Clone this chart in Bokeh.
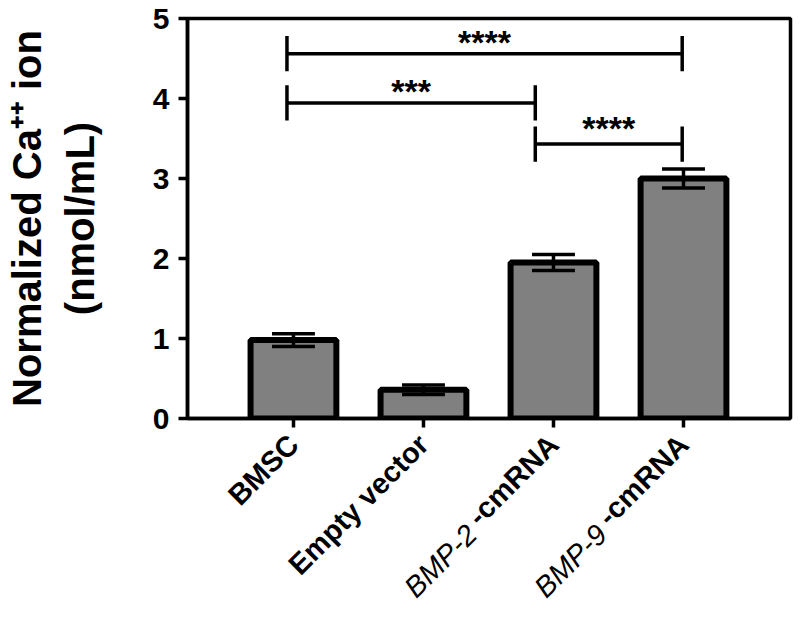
import math
from bokeh.plotting import figure
from bokeh.models import Range1d, FixedTicker, LinearAxis
from bokeh.core.properties import value
from bokeh.embed import file_html
from bokeh.resources import INLINE

# ---------------- data ----------------
categories = ["BMSC", "Empty vector", "BMP-2-cmRNA", "BMP-9-cmRNA"]
# label parts: (italic gene part, bold part)
label_gene = ["", "", "BMP-2", "BMP-9"]
label_bold = ["BMSC", "Empty vector", "-cmRNA", "-cmRNA"]
means = [0.98, 0.36, 1.95, 3.00]
errors = [0.08, 0.06, 0.10, 0.12]
y_ticks = [0, 1, 2, 3, 4, 5]
# significance comparisons (index from, index to, label)
sig_from = [0, 0, 2]
sig_to = [3, 2, 3]
sig_labels = ["****", "***", "****"]
sig_line_y = [4.56, 3.945, 3.43]

# ---------------- layout ----------------
FONT = "Liberation Sans"
W, H = 795, 620
ML, MR, MT = 187, 5, 18
FRAME_H = 400
MB = H - MT - FRAME_H
X0, X1 = -0.815, 3.823
Y0, Y1 = 0, 5
PX = (W - ML - MR) / (X1 - X0)
LAB_SIZE = 29

p = figure(width=W, height=H, x_range=Range1d(X0, X1), y_range=Range1d(Y0, Y1),
           output_backend="svg", toolbar_location=None,
           min_border_left=ML, min_border_right=MR,
           min_border_top=MT, min_border_bottom=MB)

p.xgrid.visible = False
p.ygrid.visible = False
p.outline_line_color = "black"
p.outline_line_width = 3.5
p.background_fill_color = "white"
p.border_fill_color = "white"

idx = list(range(len(categories)))

# bars
p.vbar(x=idx, top=means, bottom=0, width=0.66, fill_color="#808080",
       line_color="black", line_width=6)

# error bars
lo = [m - e for m, e in zip(means, errors)]
hi = [m + e for m, e in zip(means, errors)]
cw = 0.165
p.segment(x0=idx, y0=lo, x1=idx, y1=hi, line_color="black", line_width=3.5)
p.segment(x0=[i - cw for i in idx], y0=hi, x1=[i + cw for i in idx], y1=hi,
          line_color="black", line_width=3.5)
p.segment(x0=[i - cw for i in idx], y0=lo, x1=[i + cw for i in idx], y1=lo,
          line_color="black", line_width=3.5)

# significance brackets
end_shift = {0: -0.05, 2: -0.14, 3: -0.01}
text_lift = [0.15, 0.145, 0.2]
tick_h = 0.22
for a, b, lab, ly, tl in zip(sig_from, sig_to, sig_labels, sig_line_y, text_lift):
    xa = a + end_shift[a]
    xb = b + end_shift[b]
    p.segment(x0=[xa, xa, xb], y0=[ly, ly - tick_h, ly - tick_h],
              x1=[xb, xa, xb], y1=[ly, ly + tick_h, ly + tick_h],
              line_color="black", line_width=3.5)
    p.text(x=[(xa + xb) / 2], y=[ly + tl], text=[lab], text_font=value(FONT),
           text_font_size="34px", text_font_style="bold", text_align="center",
           text_baseline="alphabetic", text_color="black")

# y axis
p.yaxis.ticker = FixedTicker(ticks=y_ticks)
p.yaxis.major_label_text_font = FONT
p.yaxis.major_label_text_font_size = "30px"
p.yaxis.major_label_text_font_style = "bold"
p.yaxis.major_label_text_color = "black"
p.yaxis.major_label_standoff = 9
p.yaxis.axis_label = "Normalized Ca\u207a\u207a ion\n(nmol/mL)"
p.yaxis.axis_label_text_font = FONT
p.yaxis.axis_label_text_font_size = "40px"
p.yaxis.axis_label_text_font_style = "bold"
p.yaxis.axis_label_text_color = "black"
p.yaxis.axis_label_standoff = 48

# x axis (bold parts of the category labels)
xa1 = p.xaxis[0]
xa1.ticker = FixedTicker(ticks=idx)
xa1.major_label_overrides = {i: t for i, t in zip(idx, label_bold)}
xa1.major_label_orientation = math.pi / 4
xa1.major_label_text_font = FONT
xa1.major_label_text_font_size = f"{LAB_SIZE}px"
xa1.major_label_text_font_style = "bold"
xa1.major_label_text_color = "black"
xa1.major_label_standoff = 12
for ax in (xa1, p.yaxis[0]):
    ax.axis_line_width = 3.5
    ax.axis_line_color = "black"
    ax.major_tick_line_width = 3.5
    ax.major_tick_line_color = "black"
    ax.major_tick_in = 0
    ax.major_tick_out = 9
    ax.minor_tick_line_color = None

# second, invisible axis carrying the italic gene names, placed to continue
# each rotated label down-left of its bold part
bold_len = 3.944 * LAB_SIZE + 1          # pixel length of "-cmRNA" + gap
shift_units = bold_len * math.cos(math.pi / 4) / PX
gene_ticks = [i - shift_units for i, g in zip(idx, label_gene) if g]
gene_text = [g for g in label_gene if g]
xa2 = LinearAxis(ticker=FixedTicker(ticks=gene_ticks),
                 major_label_overrides={t: g for t, g in zip(gene_ticks, gene_text)},
                 major_label_orientation=math.pi / 4,
                 major_label_text_font=FONT,
                 major_label_text_font_size=f"{LAB_SIZE}px",
                 major_label_text_font_style="italic",
                 major_label_text_color="black",
                 major_label_standoff=-66,
                 axis_line_color=None, major_tick_line_color=None,
                 minor_tick_line_color=None, major_tick_in=0, major_tick_out=0)
p.add_layout(xa2, "below")

open("out.html", "w").write(file_html(p, INLINE))
